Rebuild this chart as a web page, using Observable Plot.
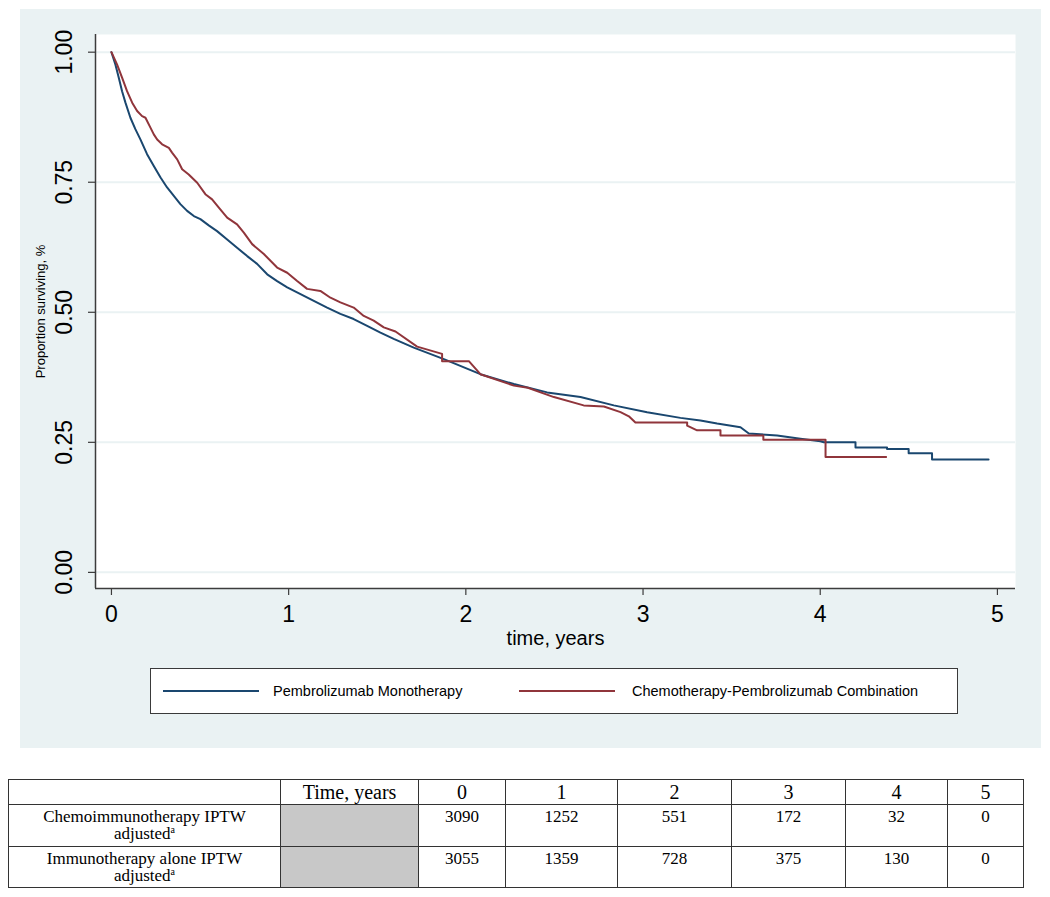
<!DOCTYPE html>
<html>
<head>
<meta charset="utf-8">
<script src="https://cdn.jsdelivr.net/npm/d3@7"></script>
<script src="https://cdn.jsdelivr.net/npm/@observablehq/plot@0.6"></script>
<style>
  html, body { margin: 0; padding: 0; background: #ffffff; }
  body { position: relative; width: 1050px; height: 897px; overflow: hidden; font-family: "Liberation Sans", Arial, sans-serif; }
  #panel { position: absolute; left: 20px; top: 9px; width: 1021px; height: 739px; background: #eaf2f3; }
  #chart { position: absolute; left: 0; top: 0; }
  #legend { position: absolute; left: 130px; top: 659px; width: 806px; height: 44px; background: #fff; border: 1px solid #3a3a3a; }
  .sw { position: absolute; top: 21px; height: 0; border-top: 2px solid; }
  .lt { position: absolute; top: 13px; font-size: 14.5px; line-height: 18px; color: #000; white-space: nowrap; }
  table { position: absolute; left: 8px; top: 779px; border-collapse: collapse; table-layout: fixed; font-family: "Liberation Serif", "Times New Roman", serif; color: #000; }
  td { border: 1px solid #333; padding: 0; text-align: center; vertical-align: top; }
  tr.head td { font-size: 20px; line-height: 23px; height: 24px; vertical-align: middle; }
  tr.body td { font-size: 17px; line-height: 17px; padding-top: 3px; }
  tr.r1 td { height: 38px; }
  tr.r2 td { height: 37px; }
  td.grey { background: #c8c8c8; }
  sup { font-size: 10px; line-height: 0; vertical-align: 6px; }
</style>
</head>
<body>
<div id="panel">
  <div id="chart"></div>
  <div id="legend"></div>
</div>
<table id="risk"></table>
<script>
// ---- Kaplan-Meier curves (time in years, proportion surviving) ----
const monoTime = [0, 0.0226, 0.0414, 0.060, 0.079, 0.107, 0.135, 0.164, 0.201, 0.239, 0.277, 0.314, 0.352, 0.389, 0.427, 0.465, 0.502, 0.549, 0.596, 0.653, 0.709, 0.766, 0.822, 0.879, 0.935, 0.992, 1.067, 1.142, 1.217, 1.292, 1.367, 1.443, 1.518, 1.593, 1.706, 1.876, 2.082, 2.271, 2.459, 2.647, 2.835, 3.023, 3.211, 3.324, 3.418, 3.55, 3.597, 3.757, 3.888, 4.001, 4.02, 4.199, 4.199, 4.377, 4.377, 4.499, 4.499, 4.631, 4.631, 4.95];
const monoSurv = [1.0, 0.976, 0.951, 0.925, 0.903, 0.874, 0.852, 0.832, 0.804, 0.781, 0.759, 0.740, 0.724, 0.708, 0.695, 0.685, 0.679, 0.667, 0.656, 0.640, 0.624, 0.608, 0.593, 0.573, 0.560, 0.548, 0.535, 0.522, 0.509, 0.497, 0.487, 0.474, 0.461, 0.449, 0.432, 0.410, 0.381, 0.362, 0.346, 0.337, 0.321, 0.308, 0.297, 0.292, 0.286, 0.279, 0.267, 0.263, 0.257, 0.252, 0.250, 0.250, 0.240, 0.240, 0.237, 0.237, 0.229, 0.229, 0.217, 0.217];

const comboTime = [0, 0.032, 0.060, 0.088, 0.117, 0.145, 0.173, 0.192, 0.220, 0.239, 0.258, 0.286, 0.324, 0.342, 0.371, 0.399, 0.436, 0.484, 0.530, 0.568, 0.606, 0.653, 0.709, 0.747, 0.794, 0.860, 0.935, 0.992, 1.048, 1.104, 1.179, 1.236, 1.292, 1.367, 1.424, 1.480, 1.537, 1.603, 1.725, 1.866, 1.866, 2.017, 2.082, 2.271, 2.35, 2.497, 2.665, 2.779, 2.873, 2.92, 2.957, 3.249, 3.249, 3.305, 3.437, 3.437, 3.679, 3.679, 4.03, 4.03, 4.372];
const comboSurv = [1.0, 0.976, 0.951, 0.925, 0.903, 0.887, 0.877, 0.874, 0.855, 0.842, 0.832, 0.823, 0.816, 0.807, 0.794, 0.775, 0.765, 0.749, 0.727, 0.717, 0.701, 0.682, 0.669, 0.653, 0.631, 0.612, 0.586, 0.576, 0.560, 0.545, 0.541, 0.528, 0.519, 0.509, 0.493, 0.484, 0.471, 0.463, 0.434, 0.420, 0.406, 0.406, 0.381, 0.359, 0.355, 0.337, 0.321, 0.319, 0.308, 0.300, 0.288, 0.288, 0.282, 0.273, 0.273, 0.263, 0.263, 0.255, 0.255, 0.222, 0.222];

const seriesNames = ["Pembrolizumab Monotherapy", "Chemotherapy-Pembrolizumab Combination"];
const seriesColors = ["#1a476f", "#90353b"];

const xTicks = [0, 1, 2, 3, 4, 5];
const yTicks = [0, 0.25, 0.5, 0.75, 1];
const xDomain = [-0.09, 5.102];
const yDomain = [-0.031, 1.034];

const xLabel = "time, years";
const yLabel = "Proportion surviving, %";

// ---- Number at risk table ----
const tableHeader = "Time, years";
const tableYears = ["0", "1", "2", "3", "4", "5"];
const rowLabels = ["Chemoimmunotherapy IPTW", "Immunotherapy alone IPTW"];
const chemoAtRisk = [3090, 1252, 551, 172, 32, 0];
const immunoAtRisk = [3055, 1359, 728, 375, 130, 0];

// ---- build data ----
const curves = [
  ...monoTime.map((t, i) => ({ t, s: monoSurv[i], series: seriesNames[0] })),
  ...comboTime.map((t, i) => ({ t, s: comboSurv[i], series: seriesNames[1] }))
];

const axisColor = "#3c3c3c";
const bg = "#eaf2f3";

const chart = Plot.plot({
  width: 1021,
  height: 650,
  marginLeft: 75,
  marginRight: 26,
  marginTop: 25,
  marginBottom: 71,
  style: { background: "transparent", fontFamily: "Liberation Sans, Arial, sans-serif", color: "#000" },
  x: { domain: xDomain, axis: null },
  y: { domain: yDomain, axis: null },
  color: { domain: seriesNames, range: seriesColors },
  marks: [
    Plot.frame({ fill: "#ffffff", stroke: null }),
    Plot.gridY(yTicks, { stroke: bg, strokeOpacity: 1, strokeWidth: 2 }),
    Plot.axisY(yTicks, { tickSize: 7, tickFormat: () => "", stroke: axisColor, strokeWidth: 1.2, label: null }),
    Plot.axisX(xTicks, { tickSize: 7, tickPadding: 10, fontSize: 23, stroke: axisColor, strokeWidth: 1.2, label: null, tickFormat: d => String(d) }),
    Plot.text(yTicks, { y: d => d, frameAnchor: "left", dx: -31, rotate: -90, text: d3.format(".2f"), textAnchor: "middle", lineAnchor: "middle", fontSize: 23, fill: "#000" }),
    Plot.text([yLabel], { frameAnchor: "left", dx: -55, rotate: -90, text: d => d, textAnchor: "middle", lineAnchor: "middle", fontSize: 13, fill: "#000" }),
    Plot.text([xLabel], { frameAnchor: "bottom", dy: 50, text: d => d, textAnchor: "middle", lineAnchor: "middle", fontSize: 20, fill: "#000" }),
    Plot.line(curves, { x: "t", y: "s", z: "series", stroke: "series", strokeWidth: 2, curve: "linear" }),
    Plot.ruleX([xDomain[0]], { stroke: axisColor, strokeWidth: 1.5 }),
    Plot.ruleY([yDomain[0]], { stroke: axisColor, strokeWidth: 1.5 })
  ]
});
document.getElementById("chart").appendChild(chart);

// ---- legend ----
const legend = document.getElementById("legend");
const swLeft = [12, 368];
const txtLeft = [122, 481];
seriesNames.forEach((name, i) => {
  const sw = document.createElement("div");
  sw.className = "sw";
  sw.style.left = swLeft[i] + "px";
  sw.style.width = "96px";
  sw.style.borderTopColor = seriesColors[i];
  legend.appendChild(sw);
  const tx = document.createElement("div");
  tx.className = "lt";
  tx.style.left = txtLeft[i] + "px";
  tx.textContent = name;
  legend.appendChild(tx);
});

// ---- table ----
const colWidths = [272, 138, 87, 112, 114, 114, 102, 76];
const table = document.getElementById("risk");
const cg = document.createElement("colgroup");
colWidths.forEach(w => { const c = document.createElement("col"); c.style.width = w + "px"; cg.appendChild(c); });
table.appendChild(cg);
table.style.width = colWidths.reduce((a, b) => a + b, 0) + "px";

const hr = document.createElement("tr");
hr.className = "head";
["", tableHeader, ...tableYears].forEach(v => { const td = document.createElement("td"); td.textContent = v; hr.appendChild(td); });
table.appendChild(hr);

[chemoAtRisk, immunoAtRisk].forEach((vals, r) => {
  const tr = document.createElement("tr");
  tr.className = "body r" + (r + 1);
  const lab = document.createElement("td");
  lab.innerHTML = rowLabels[r] + "<br>adjusted<sup>a</sup>";
  tr.appendChild(lab);
  const g = document.createElement("td");
  g.className = "grey";
  tr.appendChild(g);
  vals.forEach(v => { const td = document.createElement("td"); td.textContent = String(v); tr.appendChild(td); });
  table.appendChild(tr);
});
</script>
</body>
</html>
